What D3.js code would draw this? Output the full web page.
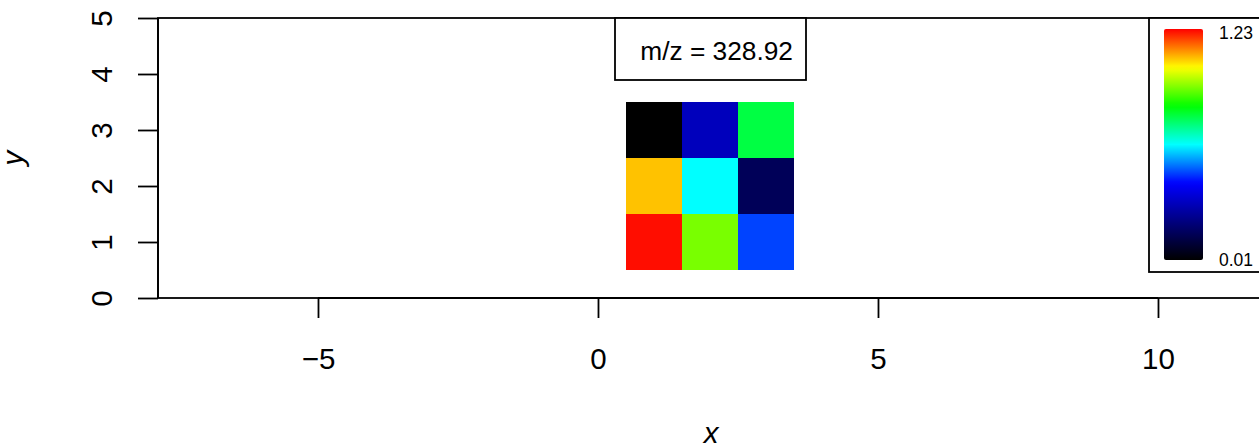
<!DOCTYPE html>
<html>
<head>
<meta charset="utf-8">
<script src="https://cdn.jsdelivr.net/npm/d3@7"></script>
<style>
  html, body { margin: 0; padding: 0; background: #fff; }
  svg { display: block; font-family: "Liberation Sans", Arial, Helvetica, sans-serif; }
</style>
</head>
<body>
<svg id="chart" width="1259" height="447"></svg>
<script>
// ---- data ----
const xCells = [1, 2, 3];
const yCells = [1, 2, 3];
// intensity values, rows indexed by y (1..3), columns by x (1..3)
const rowY1 = [1.22, 0.92, 0.47];
const rowY2 = [1.075, 0.62, 0.15];
const rowY3 = [0.01, 0.31, 0.77];
const xTicks = [-5, 0, 5, 10];
const yTicks = [0, 1, 2, 3, 4, 5];
const xLim = [-7.857, 11.893];
const yLim = [0, 5];
const colorRange = [0.01, 1.23];
const colorStops = ["#000000", "#0000ff", "#00ffff", "#00ff00", "#ffff00", "#ff0000"];
const stopPos = [0, 1/3, 1/2, 2/3, 5/6, 1];
const titleText = "m/z = 328.92";

const rows = [rowY1, rowY2, rowY3];
const cells = [];
yCells.forEach((yv, i) => xCells.forEach((xv, j) => cells.push({x: xv, y: yv, v: rows[i][j]})));

const svg = d3.select("#chart");
const L = 158, R = 1264, T = 18, B = 298;
const x = d3.scaleLinear().domain(xLim).range([L, R]);
const y = d3.scaleLinear().domain(yLim).range([B, T]);

const norm = d3.scaleLinear().domain(colorRange).range([0, 1]).clamp(true);
const cmap = d3.scaleLinear().domain(stopPos).range(colorStops).interpolate(d3.interpolateRgb);
const color = v => cmap(norm(v));

// cells
svg.append("g").selectAll("rect").data(cells).join("rect")
  .attr("x", d => x(d.x - 0.5))
  .attr("y", d => y(d.y + 0.5))
  .attr("width", d => x(d.x + 0.5) - x(d.x - 0.5))
  .attr("height", d => y(d.y - 0.5) - y(d.y + 0.5))
  .attr("fill", d => color(d.v))
  .attr("shape-rendering", "crispEdges");

const LW = 1.8;
// frame
svg.append("rect")
  .attr("x", L).attr("y", T).attr("width", R - L).attr("height", B - T)
  .attr("fill", "none").attr("stroke", "#000").attr("stroke-width", LW);

// x axis
const xAxis = d3.axisBottom(x).tickValues(xTicks).tickSize(20).tickPadding(27)
  .tickFormat(d => d < 0 ? "\u2212" + Math.abs(d) : String(d));
const gx = svg.append("g").attr("transform", `translate(0,${B})`).call(xAxis);
gx.select(".domain").attr("d", `M${x(xTicks[0])},0H${x(xTicks[xTicks.length-1])}`)
  .attr("stroke-width", LW);
gx.selectAll(".tick line").attr("stroke-width", LW);
gx.selectAll(".tick text").attr("font-size", 29.5).attr("fill", "#000")
  .attr("font-family", "Liberation Sans, Arial, sans-serif")
  .attr("dy", null).attr("y", 71);

// y axis
const yAxis = d3.axisLeft(y).tickValues(yTicks).tickSize(20).tickFormat(d3.format("d"));
const gy = svg.append("g").attr("transform", `translate(${L},0)`).call(yAxis);
gy.select(".domain").attr("d", `M0,${y(yTicks[0])}V${y(yTicks[yTicks.length-1])}`)
  .attr("stroke-width", LW);
gy.selectAll(".tick line").attr("stroke-width", LW);
gy.selectAll(".tick text")
  .attr("font-size", 29.5).attr("fill", "#000")
  .attr("font-family", "Liberation Sans, Arial, sans-serif")
  .attr("x", null).attr("dy", null)
  .attr("text-anchor", "middle")
  .attr("transform", "translate(-46,0) rotate(-90)");

// axis titles
svg.append("text").attr("x", (L + R) / 2).attr("y", 443)
  .attr("text-anchor", "middle").attr("font-size", 29.5).attr("font-style", "italic")
  .text("x");
svg.append("text").attr("transform", `translate(23,${(T + B) / 2}) rotate(-90)`)
  .attr("text-anchor", "middle").attr("font-size", 29.5).attr("font-style", "italic")
  .text("y");

// title box
svg.append("rect").attr("x", 615).attr("y", T).attr("width", 191).attr("height", 62)
  .attr("fill", "#fff").attr("stroke", "#000").attr("stroke-width", LW);
svg.append("text").attr("x", 793).attr("y", 59.5).attr("text-anchor", "end")
  .attr("font-size", 26.3).text(titleText);

// colour legend
svg.append("rect").attr("x", 1149).attr("y", T).attr("width", 130).attr("height", 254)
  .attr("fill", "#fff").attr("stroke", "#000").attr("stroke-width", LW);
const grad = svg.append("defs").append("linearGradient").attr("id", "cg")
  .attr("x1", 0).attr("y1", 1).attr("x2", 0).attr("y2", 0);
d3.range(0, 1.0001, 0.02).forEach(t => {
  grad.append("stop").attr("offset", t).attr("stop-color", cmap(t));
});
const legY = d3.scaleLinear().domain(colorRange).range([260, 29]);
svg.append("rect").attr("x", 1164).attr("y", legY(colorRange[1]))
  .attr("width", 39).attr("height", legY(colorRange[0]) - legY(colorRange[1]))
  .attr("rx", 2).attr("fill", "url(#cg)");
svg.append("text").attr("x", 1219).attr("y", legY(colorRange[1]) + 9.5)
  .attr("font-size", 17.5).text(colorRange[1].toFixed(2));
svg.append("text").attr("x", 1219).attr("y", legY(colorRange[0]) + 6)
  .attr("font-size", 17.5).text(colorRange[0].toFixed(2));
</script>
</body>
</html>
